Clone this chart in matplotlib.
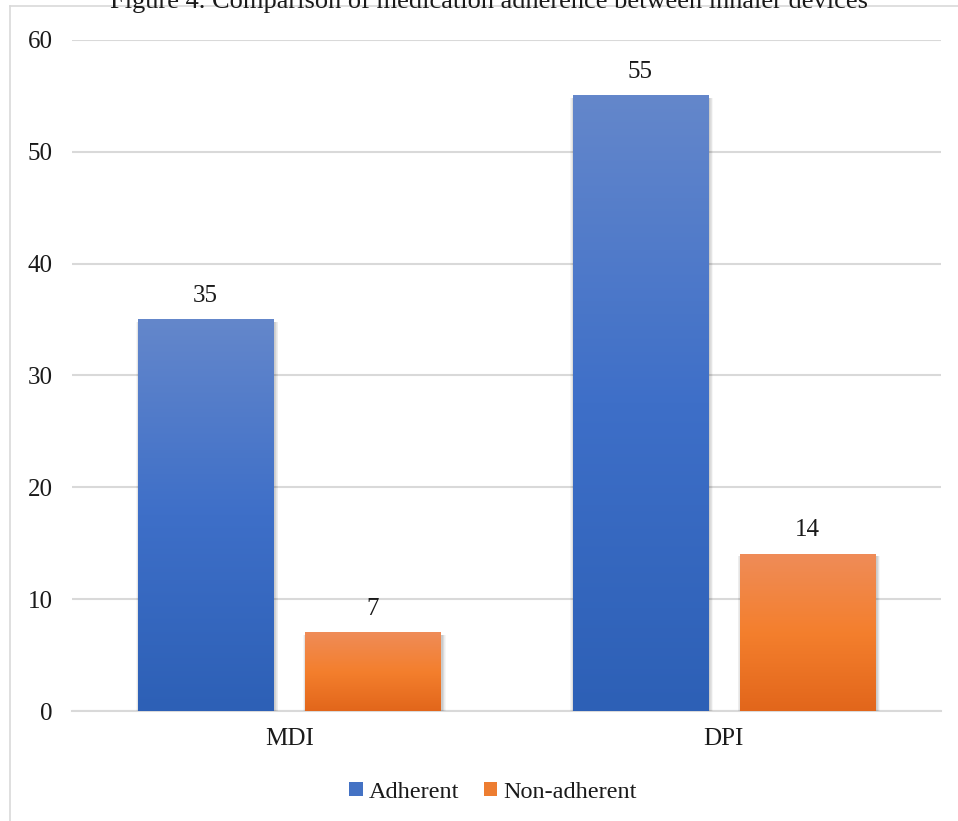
import numpy as np
import matplotlib
matplotlib.use("Agg")
import matplotlib.pyplot as plt
from matplotlib.patches import Rectangle
from matplotlib.lines import Line2D
from matplotlib.colors import LinearSegmentedColormap

# ---- data ----
categories = ["MDI", "DPI"]
series_names = ["Adherent", "Non-adherent"]
adherent = [35, 55]
non_adherent = [7, 14]
y_ticks = [0, 10, 20, 30, 40, 50, 60]
title = "Figure 4. Comparison of medication adherence between inhaler devices"

plt.rcParams['font.family'] = ['Liberation Serif', 'DejaVu Serif']

W, H = 958, 821
fig = plt.figure(figsize=(W / 100, H / 100), dpi=100)
ax = fig.add_axes([72 / W, 1 - 711 / H, (941 - 72) / W, (711 - 40) / H])

blue_cmap = LinearSegmentedColormap.from_list("b", ["#2d60b6", "#3e6fc8", "#6487cb"])
orange_cmap = LinearSegmentedColormap.from_list("o", ["#e2661b", "#f47f2d", "#ef8c58"])
cmaps = [blue_cmap, orange_cmap]
legend_colors = ["#4472c4", "#ed7d31"]

x = np.arange(len(categories))
bw = 0.311
gap = 0.074
offsets = [-(bw + gap) / 2, (bw + gap) / 2]
series = [adherent, non_adherent]

ax.set_xlim(-0.5, len(categories) - 0.5)
ax.set_ylim(0, 60)

# pixel-to-data conversions
px_x = (len(categories)) / (941 - 72)
px_y = 60 / (711 - 40)

FS = 18
grad = np.linspace(0, 1, 256).reshape(-1, 1)
for si, vals in enumerate(series):
    for ci, v in enumerate(vals):
        x0 = x[ci] + offsets[si] - bw / 2
        # soft shadow
        for k in range(1, 7):
            ax.add_patch(Rectangle((x0 + 1.5 * px_x - k * px_x * 0.6, -k * px_y * 0.6),
                                   bw + 2 * k * px_x * 0.6, v + k * px_y * 0.6 - 2 * px_y,
                                   facecolor="black", edgecolor="none", alpha=0.035, zorder=2))
        ax.imshow(grad, extent=[x0, x0 + bw, 0, v], origin="lower", aspect="auto",
                  cmap=cmaps[si], zorder=3, interpolation="bilinear")
        ax.text(x[ci] + offsets[si], v + 24 * px_y, str(v), ha="center", va="center",
                fontsize=FS, color="#1a1a1a", zorder=4)

ax.set_xlim(-0.5, len(categories) - 0.5)
ax.set_ylim(0, 60)
ax.set_yticks(y_ticks)
ax.set_yticklabels([str(t) for t in y_ticks], fontsize=FS, color="#1a1a1a")
ax.set_xticks(x)
ax.set_xticklabels(categories, fontsize=FS, color="#1a1a1a")
ax.tick_params(axis="both", length=0)
ax.tick_params(axis="y", pad=14)
ax.tick_params(axis="x", pad=12)
ax.grid(axis="y", color="#d9d9d9", linewidth=1.5, zorder=0)
ax.set_axisbelow(True)
for s in ["top", "right", "left"]:
    ax.spines[s].set_visible(False)
ax.spines["bottom"].set_color("#d9d9d9")
ax.spines["bottom"].set_linewidth(1.5)
ax.spines["bottom"].set_zorder(1)

# outer border (chart frame, partially cropped)
fig.add_artist(Line2D([9.5 / W, 9.5 / W], [0, 1 - 6 / H], color="#d9d9d9", linewidth=1.2))
fig.add_artist(Line2D([9.5 / W, 1], [1 - 6 / H, 1 - 6 / H], color="#d9d9d9", linewidth=1.2))

# title (top cropped)
fig.text(489 / W, 1 - 8 / H, title, ha="center", va="baseline", fontsize=19, color="#1a1a1a")

handles = [Rectangle((0, 0), 1, 1, facecolor=c, edgecolor="none") for c in legend_colors]
fig.legend(handles, series_names, loc="center", bbox_to_anchor=(493 / W, 1 - 792 / H),
           ncol=2, frameon=False, fontsize=17.5, handlelength=0.55, handleheight=0.55,
           handletextpad=0.25, columnspacing=1.0, labelcolor="#1a1a1a")

fig.savefig("out.png", dpi=100)
